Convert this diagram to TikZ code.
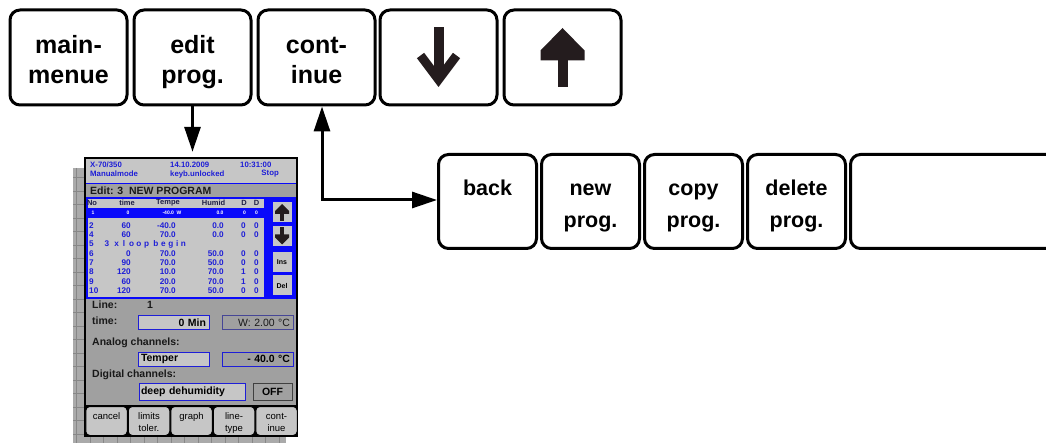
\documentclass[tikz,border=0pt]{standalone}
\usepackage{fontspec}
\setmainfont{Liberation Sans}
\usetikzlibrary{positioning,arrows.meta}
\definecolor{scrblue}{RGB}{30,30,215}
\definecolor{panelblue}{RGB}{10,10,250}
\definecolor{lightgrey}{RGB}{198,198,198}
\definecolor{darkgrey}{RGB}{160,160,160}
\definecolor{gridgrey}{RGB}{170,170,170}
\definecolor{gridline}{RGB}{135,135,135}
\definecolor{headink}{RGB}{30,30,70}
\definecolor{ink}{RGB}{36,28,30}

\begin{document}
\begin{tikzpicture}[x=1pt, y=-1pt, >={Triangle[length=25pt,width=16pt]},
    key/.style={draw, line width=3pt, rounded corners=10pt, minimum width=117pt, minimum height=95pt,
        align=center, font=\fontsize{25}{30}\selectfont\bfseries,
        execute at begin node={\rule{0pt}{57.6pt}}, execute at end node={\rule[-6pt]{0pt}{6pt}}},
    softkey/.style={key, minimum width=98pt, minimum height=94pt, font=\fontsize{21.5}{32}\selectfont\bfseries,
        execute at begin node={\rule{0pt}{56pt}}, execute at end node={\rule[-5pt]{0pt}{5pt}}},
    link/.style={line width=3pt},
    hdr/.style={inner sep=0pt, text=scrblue, font=\fontsize{7.8}{9}\selectfont\bfseries},
    colhead/.style={inner sep=0pt, text=headink, font=\fontsize{7.5}{9}\selectfont\bfseries},
    row/.style={inner sep=0pt, text=scrblue, font=\fontsize{8.2}{9}\selectfont\bfseries},
    selrow/.style={inner sep=0pt, text=white, font=\fontsize{5}{6}\selectfont\bfseries},
    form/.style={inner sep=0pt, text=black!90, font=\fontsize{10.5}{12}\selectfont\bfseries},
    field/.style={draw=scrblue, line width=1pt, fill=lightgrey, minimum height=14pt, inner ysep=0pt,
        inner xsep=3pt, font=\fontsize{10.5}{12}\selectfont\bfseries},
    panelkey/.style={fill=lightgrey, minimum width=19pt, minimum height=20pt, inner sep=0pt,
        font=\fontsize{7}{8}\selectfont\bfseries},
    scrkey/.style={draw, line width=1pt, fill=lightgrey, rounded corners=4pt, minimum width=41.5pt,
        minimum height=29pt, inner sep=0pt, align=center, font=\fontsize{9.5}{12.5}\selectfont,
        execute at begin node={\rule{0pt}{25pt}}, execute at end node={\rule[-4pt]{0pt}{4pt}}}]
    \useasboundingbox (0,0) rectangle (1046,443);
    \clip (0,0) rectangle (1046,443);

    \node[key] (mainmenue) at (68.5,57.5) {main-\\menue};
    \node[key, right=4pt of mainmenue] (editprog) {edit\\prog.};
    \node[key, right=4pt of editprog] (continue) {cont-\\inue};
    \node[key, right=2pt of continue] (arrowdown) {};
    \node[key, right=4pt of arrowdown] (arrowup) {};
    \begin{scope}[shift={(arrowdown.center)}, ink]
        \draw[line width=10pt] (0,-30) -- (0,20);
        \draw[line width=9pt, line join=miter] (-18,-2) -- (0,22) -- (18,-2);
    \end{scope}
    \begin{scope}[shift={(arrowup.center)}]
        \fill[ink] (-5,30) rectangle (5,0);
        \fill[ink] (-22,3) -- (-22,-7) -- (0,-29.5) -- (22,-7) -- (22,3) -- cycle;
    \end{scope}

    \node[softkey] (back) at (487.5,201.5) {back\\\phantom{prog.}};
    \node[softkey, right=2pt of back] (newprog) {new\\prog.};
    \node[softkey, right=2pt of newprog] (copyprog) {copy\\prog.};
    \node[softkey, right=2pt of copyprog] (deleteprog) {delete\\prog.};
    \node[softkey, right=2pt of deleteprog, minimum width=250pt] (spare) {};

    \fill[gridgrey] (73,168) rectangle (286,443);
    \foreach \gy in {177.5,191,...,443} \draw[gridline] (73,\gy) -- (286,\gy);
    \foreach \gx in {76.5,90,...,286} \draw[gridline] (\gx,168) -- (\gx,443);
    \node[fill=black, minimum width=214pt, minimum height=280pt, inner sep=0pt] (screen) at (191,297) {};
    \fill[lightgrey] (86,159) rectangle (296,183);
    \draw[panelblue, line width=1pt] (86,183.5) -- (296,183.5);
    \fill[darkgrey] (86,184) rectangle (296,197);
    \fill[panelblue] (86,197) rectangle (296,299);
    \fill[lightgrey] (88,199) rectangle (264,297);
    \fill[panelblue] (88,208) rectangle (264,218);
    \fill[darkgrey] (86,299) rectangle (296,405);

    \node[hdr, anchor=west] (model) at (90,165) {X-70/350};
    \node[hdr, anchor=west] (mode) at (90,174) {Manualmode};
    \node[hdr, anchor=west] (date) at (170,165) {14.10.2009};
    \node[hdr, anchor=west] (lock) at (170,174) {keyb.unlocked};
    \node[hdr, anchor=west] (clock) at (240,165) {10:31:00};
    \node[hdr, anchor=east] (state) at (279,174) {Stop};
    \node[form, anchor=west] (title) at (90,190.5) {Edit: 3\ \ NEW PROGRAM};

    \node[colhead] (hno) at (92,203) {No};
    \node[colhead] (htime) at (127,203) {time};
    \node[colhead] (htemp) at (168,203) {Tempe};
    \node[colhead] (hhum) at (213.5,203) {Humid};
    \node[colhead] (hda) at (244,203) {D};
    \node[colhead] (hdb) at (256.5,203) {D};

    \node[selrow] (sno) at (93,213) {1};
    \node[selrow] (stime) at (128,213) {0};
    \node[selrow] (stemp) at (172,213) {-40.0\ \ W};
    \node[selrow] (shum) at (220,213) {0.0};
    \node[selrow] (sda) at (244.5,213) {0};
    \node[selrow] (sdb) at (256.5,213) {0};

    \foreach \ry/\rno/\rti/\rte/\rhu/\rda/\rdb in {226/2/60/-40.0/0.0/0/0, 235/4/60/70.0/0.0/0/0,
        254/6/0/70.0/50.0/0/0, 263/7/90/70.0/50.0/0/0, 272/8/120/10.0/70.0/1/0,
        282/9/60/20.0/70.0/1/0, 291/10/120/70.0/50.0/0/0}{
        \node[row, anchor=west] (no\rno) at (89,\ry) {\rno};
        \node[row, anchor=east] (ti\rno) at (131,\ry) {\rti};
        \node[row, anchor=east] (te\rno) at (176,\ry) {\rte};
        \node[row, anchor=east] (hu\rno) at (224,\ry) {\rhu};
        \node[row] (da\rno) at (243.5,\ry) {\rda};
        \node[row] (db\rno) at (256.5,\ry) {\rdb};
    }
    \node[row, anchor=west] (no5) at (89,244) {5};
    \foreach \ch/\cx [count=\k] in {3/107, x/116.7, l/124, o/131.7, o/139, p/146.7,
        b/156, e/163.3, g/171, i/177.3, n/183.3}
        \node[row, anchor=base] (loop\k) at (\cx,247) {\ch};

    \node[panelkey] (pup) at (282,212) {};
    \node[panelkey] (pdown) at (282,236.5) {};
    \node[panelkey] (pins) at (282,262) {Ins};
    \node[panelkey] (pdel) at (282,285.5) {Del};
    \begin{scope}[shift={(pup.center)}, ink]
        \fill (-2,9) rectangle (2,0);
        \fill (-7,2) -- (-7,-1) -- (0,-8) -- (7,-1) -- (7,2) -- cycle;
    \end{scope}
    \begin{scope}[shift={(pdown.center)}, ink]
        \fill (-2,-9) rectangle (2,0);
        \fill (-7,-2) -- (-7,1) -- (0,8) -- (7,1) -- (7,-2) -- cycle;
    \end{scope}

    \node[form, anchor=west] (line) at (92,305) {Line:};
    \node[form] (lineno) at (150,305) {1};
    \node[form, anchor=west] (time) at (92,321) {time:};
    \node[field, text width=65pt, align=right] (fmin) at (173.5,323) {0 Min};
    \node[field, text width=65pt, align=right, fill=darkgrey, draw={rgb,255:red,70;green,70;blue,150},
        font=\fontsize{10.5}{12}\selectfont, text=black!90] (fwidth) at (257.5,323) {W: 2.00 °C};
    \node[form, anchor=west] (analog) at (92,343) {Analog channels:};
    \node[field, text width=65pt, align=left] (ftemper) at (173.5,359) {Temper};
    \node[field, text width=65pt, align=right, fill=darkgrey] (fvalue) at (257.5,359) {- 40.0 °C};
    \node[form, anchor=west] (digital) at (92,375) {Digital channels:};
    \node[field, text width=102pt, align=left, minimum height=17pt, inner xsep=2pt] (fdigital) at (192,391.5) {deep dehumidity};
    \node[field, minimum width=39pt, minimum height=17pt, fill=darkgrey, draw=black!75] (foff) at (272.5,391.5) {OFF};

    \foreach \lbl [count=\i] in {{cancel\\\phantom{t}}, {limits\\toler.}, {graph\\\phantom{t}}, {line-\\type}, {cont-\\inue}}
        \node[scrkey] (sk\i) at (64+42.5*\i,421) {\lbl};

    \coordinate (bend) at (322,200);
    \draw[link, ->, shorten >=5pt] (editprog.south) -- (editprog.south |- screen.north);
    \draw[link, <->] (bend |- continue.south) -- (bend) -- (bend -| back.west);
\end{tikzpicture}
\end{document}
